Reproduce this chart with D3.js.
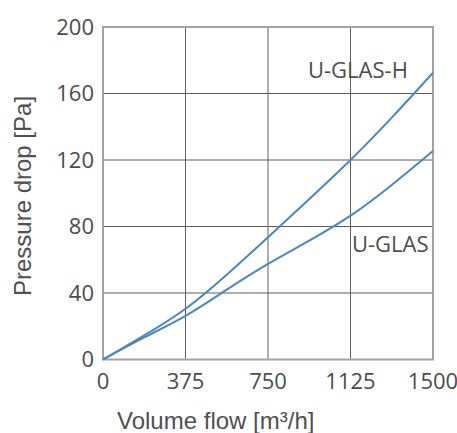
<!DOCTYPE html>
<html>
<head>
<meta charset="utf-8">
<script src="https://cdn.jsdelivr.net/npm/d3@7"></script>
<style>
  body { margin: 0; background: #fff; }
  text { font-family: "Open Sans", sans-serif; fill: #4d4d4d; }
  .title { font-family: "Liberation Sans", Arial, sans-serif; fill: #505050; }
</style>
</head>
<body>
<svg width="457" height="433"></svg>
<script>
// data
var flow = [0, 187.5, 375, 562.5, 750, 937.5, 1125, 1312.5, 1500];
var uglasH = [0, 14.5, 30.5, 51, 73.5, 96.5, 120, 145.5, 172.5];
var uglas = [0, 13.3, 26.3, 42, 57.5, 71.5, 86.5, 105, 125.4];
var xTicks = [0, 375, 750, 1125, 1500];
var yTicks = [0, 40, 80, 120, 160, 200];

var svg = d3.select("svg");
var pLeft = 103, pRight = 433, pTop = 27, pBottom = 359.5;

var x = d3.scaleLinear().domain([0, 1500]).range([pLeft, pRight]);
var y = d3.scaleLinear().domain([0, 200]).range([pBottom, pTop]);

// grid
var grid = svg.append("g").attr("class", "grid");
grid.selectAll(".gx")
    .data(xTicks.slice(1, -1))
    .enter().append("line")
    .attr("x1", d => x(d)).attr("x2", d => x(d))
    .attr("y1", pTop).attr("y2", pBottom)
    .attr("stroke", "#5e5e5e").attr("stroke-width", 1);
grid.selectAll(".gy")
    .data(yTicks.slice(1, -1))
    .enter().append("line")
    .attr("x1", pLeft).attr("x2", pRight)
    .attr("y1", d => y(d)).attr("y2", d => y(d))
    .attr("stroke", "#5e5e5e").attr("stroke-width", 1);

// frame
svg.append("rect")
    .attr("x", pLeft).attr("y", pTop)
    .attr("width", pRight - pLeft).attr("height", pBottom - pTop)
    .attr("fill", "none")
    .attr("stroke", "#a3a3a3").attr("stroke-width", 2);

// tick labels
svg.append("g").selectAll("text")
    .data(yTicks)
    .enter().append("text")
    .attr("x", pLeft - 9)
    .attr("y", d => y(d))
    .attr("dy", "0.36em")
    .attr("text-anchor", "end")
    .style("font-size", "22px")
    .text(d => d);

svg.append("g").selectAll("text")
    .data(xTicks)
    .enter().append("text")
    .attr("x", d => x(d))
    .attr("y", 389)
    .attr("text-anchor", "middle")
    .style("font-size", "22px")
    .text(d => d);

// axis titles
svg.append("text")
    .attr("class", "title")
    .attr("x", 117).attr("y", 429)
    .style("font-size", "24px")
    .text("Volume flow [m³/h]");

svg.append("text")
    .attr("class", "title")
    .attr("transform", "translate(31,196) rotate(-90)")
    .attr("text-anchor", "middle")
    .style("font-size", "24px")
    .text("Pressure drop [Pa]");

// curves
var line = d3.line()
    .x((d, i) => x(flow[i]))
    .y(d => y(d))
    .curve(d3.curveNatural);

[uglasH, uglas].forEach(function(s) {
  svg.append("path")
      .attr("d", line(s))
      .attr("fill", "none")
      .attr("stroke", "#4a87c9")
      .attr("stroke-width", 2);
});

// series labels
svg.append("text")
    .attr("x", 308).attr("y", 78)
    .style("font-size", "22px")
    .text("U-GLAS-H");
svg.append("text")
    .attr("x", 352).attr("y", 252)
    .style("font-size", "22px")
    .text("U-GLAS");
</script>
</body>
</html>
